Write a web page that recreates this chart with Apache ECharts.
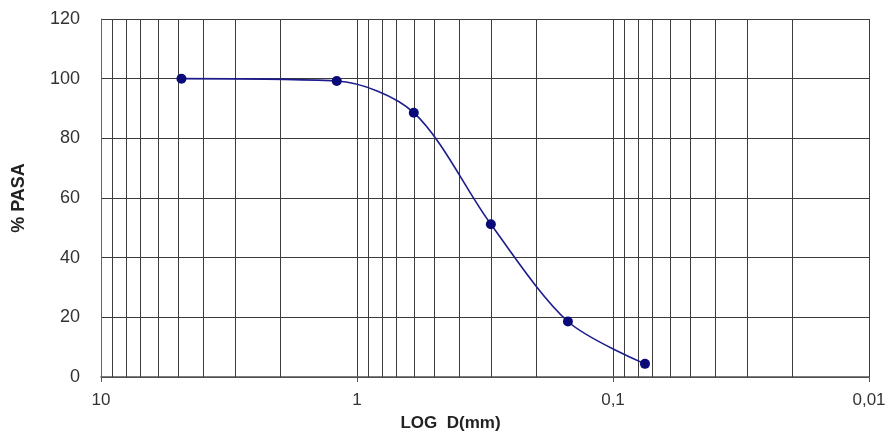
<!DOCTYPE html>
<html><head><meta charset="utf-8">
<script src="https://cdn.jsdelivr.net/npm/echarts@6/dist/echarts.min.js"></script>
<style>html,body{margin:0;padding:0;background:#fff}#c{width:890px;height:437px}</style>
</head><body><div id="c"></div>
<script>
// Data (grain size curve)
const diameters = [4.85, 1.2, 0.6, 0.3, 0.15, 0.075];
const passing = [100, 99.2, 88.6, 51.2, 18.6, 4.4];
// Axis ticks
const xTickValues = [10, 1, 0.1, 0.01];
const xTickLabels = ['10', '1', '0,1', '0,01'];
const minorGridValues = [9, 8, 7, 6, 5, 4, 3, 2,
  0.9, 0.8, 0.7, 0.6, 0.5, 0.4, 0.3, 0.2,
  0.09, 0.08, 0.07, 0.06, 0.05, 0.04, 0.03, 0.02];
const yMin = 0, yMax = 120, yStep = 20;
const xName = 'LOG  D(mm)';
const yName = '% PASA';

const chart = echarts.init(document.getElementById('c'), null, {renderer: 'canvas'});
const gridColor = '#3c3c3c';
const font = 'Liberation Sans, Arial, sans-serif';
const fmtX = v => {
  let best = 0, bd = Infinity;
  xTickValues.forEach((t, i) => { const d = Math.abs(Math.log10(v) - Math.log10(t)); if (d < bd) { bd = d; best = i; } });
  return bd < 0.01 ? xTickLabels[best] : '';
};
chart.setOption({
  animation: false,
  backgroundColor: '#fff',
  grid: {left: 101, right: 21, top: 19, bottom: 58, containLabel: false},
  xAxis: {
    type: 'log', logBase: 10, min: 0.01, max: 10, inverse: true,
    name: xName, nameLocation: 'middle', nameGap: 38,
    nameTextStyle: {fontFamily: font, fontWeight: 'bold', fontSize: 17, color: '#222', padding: [0, 69, 0, 0]},
    axisLine: {show: true, lineStyle: {color: '#555', width: 1.5}},
    axisTick: {show: true, length: 5, lineStyle: {color: '#555'}},
    axisLabel: {formatter: fmtX, fontFamily: font, fontSize: 17, color: '#333', margin: 15},
    splitLine: {show: true, lineStyle: {color: gridColor, width: 1}},
    minorTick: {show: false}, minorSplitLine: {show: false}
  },
  yAxis: {
    type: 'value', min: yMin, max: yMax, interval: yStep,
    name: yName, nameLocation: 'middle', nameGap: 73, nameRotate: 90,
    nameTextStyle: {fontFamily: font, fontWeight: 'bold', fontSize: 18, color: '#222', padding: [0, 0, 0, 0]},
    axisLine: {show: true, lineStyle: {color: '#666', width: 1}},
    axisTick: {show: false},
    axisLabel: {fontFamily: font, fontSize: 18, color: '#333', margin: 21},
    splitLine: {show: true, lineStyle: {color: gridColor, width: 1}}
  },
  series: [{
    type: 'line',
    data: diameters.map((d, i) => [d, passing[i]]),
    smooth: 0.3,
    symbol: 'circle', symbolSize: 10,
    lineStyle: {color: '#1c1c8c', width: 1.6},
    itemStyle: {color: '#0a0a78'},
    z: 5,
    markLine: {
      silent: true, symbol: ['none', 'none'], label: {show: false},
      lineStyle: {color: gridColor, width: 1, type: 'solid'},
      emphasis: {disabled: true},
      data: minorGridValues.map(v => ({xAxis: v}))
    }
  }]
});
</script></body></html>
